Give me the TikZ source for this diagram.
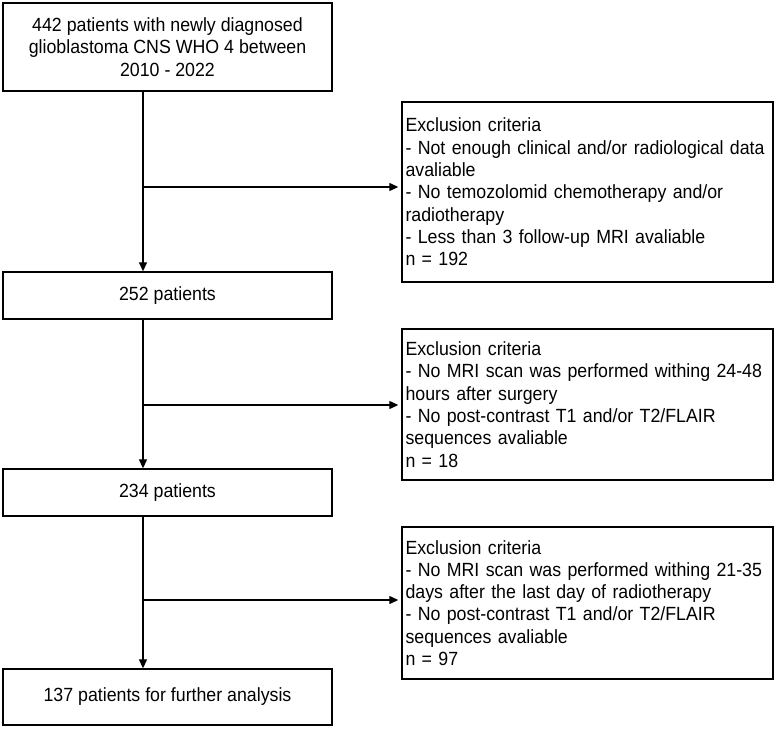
\documentclass[tikz,border=0pt]{standalone}
\usepackage{fontspec}
\setmainfont{Liberation Sans}[FakeStretch=0.93]
\usetikzlibrary{arrows.meta}
\begin{document}
\begin{tikzpicture}[x=1pt,y=-1pt,
  box/.style={draw, line width=1.4pt, inner sep=0pt, font=\fontsize{19.1}{22.3}\selectfont},
  mainbox/.style={box, minimum width=329pt, align=center},
  exbox/.style={box, minimum width=371pt, text width=364pt, align=left},
  arr/.style={line width=1.3pt, -{Triangle[length=9pt,width=8pt]}}]
\useasboundingbox (0,0) rectangle (777,729);
\node[mainbox, minimum height=88pt] (b1) at (167.5,47) {442 patients with newly diagnosed\\glioblastoma CNS WHO 4 between\\2010 - 2022};
\node[mainbox, minimum height=47pt] (b2) at (167.5,295.5) {252 patients};
\node[mainbox, minimum height=47pt] (b3) at (167.5,492.5) {234 patients};
\node[mainbox, minimum height=56pt] (b4) at (167.5,697) {137 patients for further analysis};
\node[exbox, minimum height=180pt] (e1) at (587.5,192) {Exclusion criteria\\- Not enough clinical and/or radiological data\\avaliable\\- No temozolomid chemotherapy and/or\\radiotherapy\\- Less than 3 follow-up MRI avaliable\\n = 192};
\node[exbox, minimum height=151pt] (e2) at (587.5,404.5) {Exclusion criteria\\- No MRI scan was performed withing 24-48\\hours after surgery\\- No post-contrast T1 and/or T2/FLAIR\\sequences avaliable\\n = 18};
\node[exbox, minimum height=152pt] (e3) at (587.5,603) {Exclusion criteria\\- No MRI scan was performed withing 21-35\\days after the last day of radiotherapy\\- No post-contrast T1 and/or T2/FLAIR\\sequences avaliable\\n = 97};
\coordinate (j1) at (143,187);
\coordinate (j2) at (143,405);
\coordinate (j3) at (143,600);
\draw[arr] (b1.south -| j1) -- (b2.north -| j1);
\draw[arr] (b2.south -| j1) -- (b3.north -| j1);
\draw[arr] (b3.south -| j1) -- (b4.north -| j1);
\draw[arr, shorten >=3pt] (j1) -- (j1 -| e1.west);
\draw[arr, shorten >=3pt] (j2) -- (j2 -| e2.west);
\draw[arr, shorten >=3pt] (j3) -- (j3 -| e3.west);
\end{tikzpicture}
\end{document}
